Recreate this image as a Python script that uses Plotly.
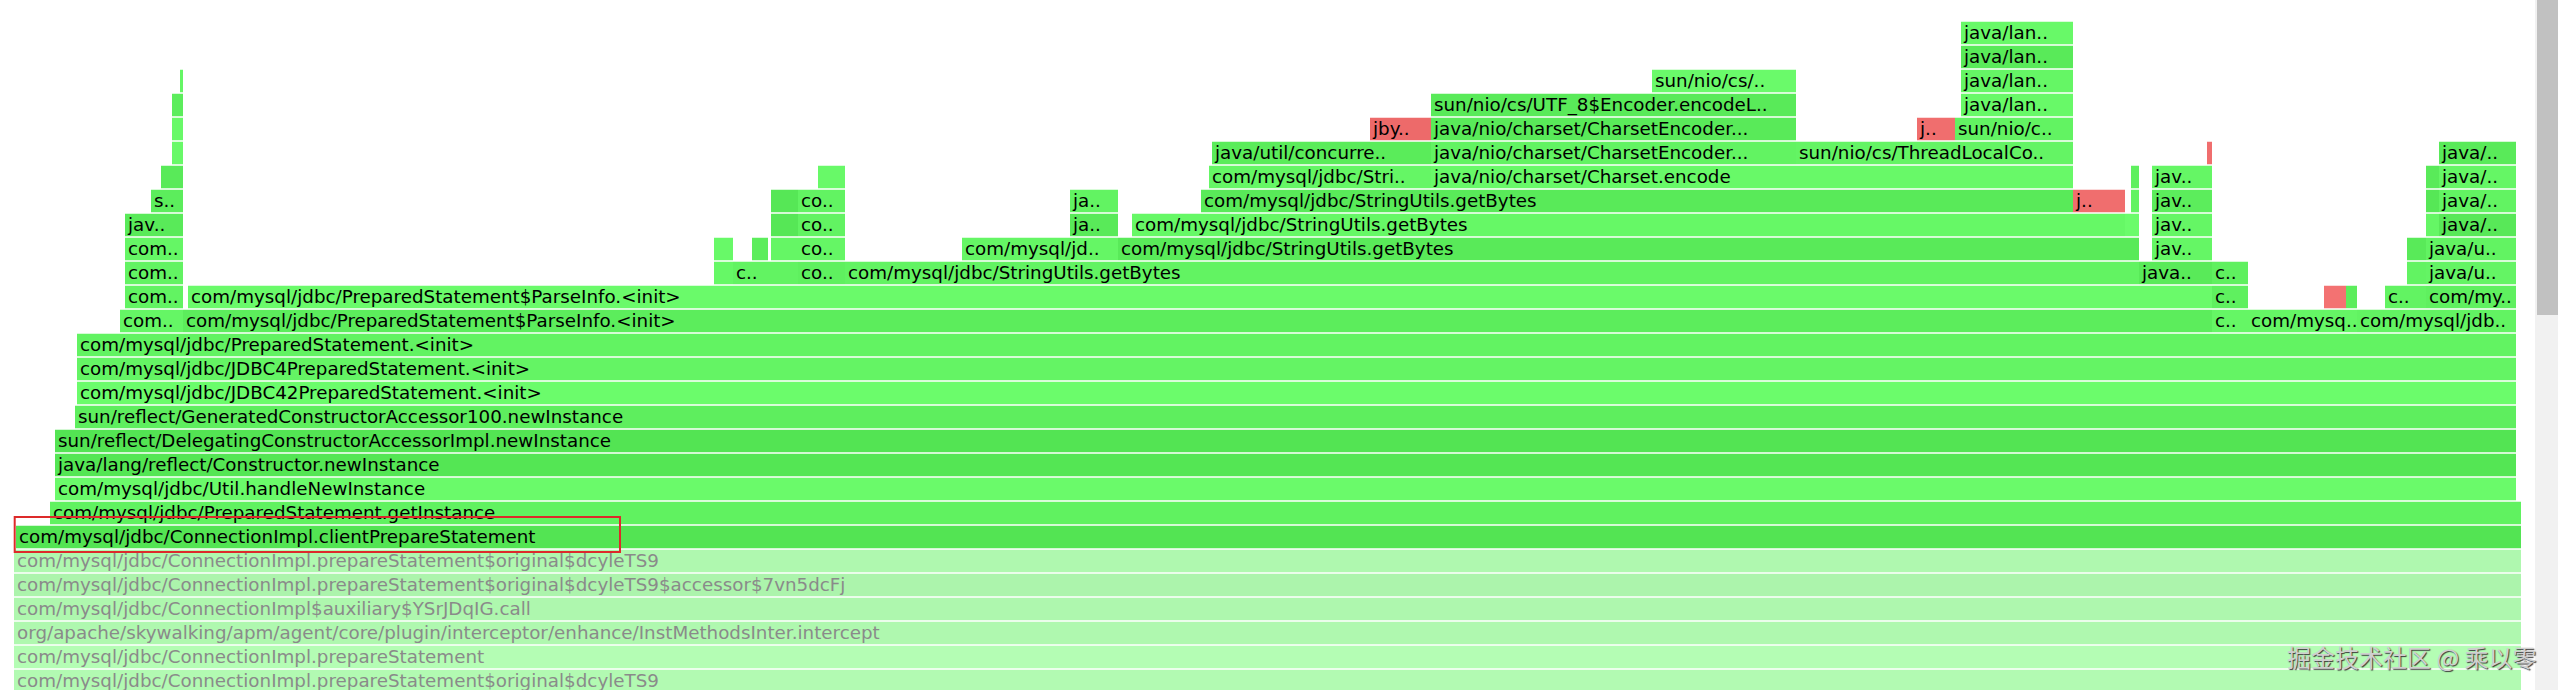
import plotly.graph_objects as go

# ---------------- data: flame graph frames (start sample, width in samples, label, kind) ----------------
# kind: "j" = java frame (green), "n" = native frame (red)
ROOT_LEVEL = 21  # zoomed frame; frames below it are drawn faded

L00 = [(1961, 112, "java/lan..", "j")]
L01 = [(1961, 112, "java/lan..", "j")]
L02 = [(180, 3, "", "j"), (1652, 144, "sun/nio/cs/..", "j"), (1961, 112, "java/lan..", "j")]
L03 = [(172, 11, "", "j"), (1431, 365, "sun/nio/cs/UTF_8$Encoder.encodeL..", "j"), (1961, 112, "java/lan..", "j")]
L04 = [(172, 11, "", "j"), (1370, 61, "jby..", "n"), (1431, 365, "java/nio/charset/CharsetEncoder...", "j"),
       (1917, 38, "j..", "n"), (1955, 118, "sun/nio/c..", "j")]
L05 = [(172, 11, "", "j"), (1212, 219, "java/util/concurre..", "j"), (1431, 365, "java/nio/charset/CharsetEncoder...", "j"),
       (1796, 277, "sun/nio/cs/ThreadLocalCo..", "j"), (2207, 5, "", "n"), (2439, 77, "java/..", "j")]
L06 = [(161, 22, "", "j"), (818, 27, "", "j"), (1209, 222, "com/mysql/jdbc/Stri..", "j"),
       (1431, 642, "java/nio/charset/Charset.encode", "j"), (2131, 8, "", "j"), (2152, 60, "jav..", "j"),
       (2426, 13, "", "j"), (2439, 77, "java/..", "j")]
L07 = [(151, 32, "s..", "j"), (771, 27, "", "j"), (798, 47, "co..", "j"), (1070, 48, "ja..", "j"),
       (1201, 872, "com/mysql/jdbc/StringUtils.getBytes", "j"), (2073, 52, "j..", "n"), (2131, 8, "", "j"),
       (2152, 60, "jav..", "j"), (2426, 13, "", "j"), (2439, 77, "java/..", "j")]
L08 = [(125, 58, "jav..", "j"), (771, 27, "", "j"), (798, 47, "co..", "j"), (1070, 48, "ja..", "j"),
       (1132, 993, "com/mysql/jdbc/StringUtils.getBytes", "j"), (2125, 14, "", "j"), (2152, 60, "jav..", "j"),
       (2426, 13, "", "j"), (2439, 77, "java/..", "j")]
L09 = [(125, 58, "com..", "j"), (714, 19, "", "j"), (752, 16, "", "j"), (771, 27, "", "j"), (798, 47, "co..", "j"),
       (962, 156, "com/mysql/jd..", "j"), (1118, 1021, "com/mysql/jdbc/StringUtils.getBytes", "j"),
       (2152, 60, "jav..", "j"), (2407, 19, "", "j"), (2426, 90, "java/u..", "j")]
L10 = [(125, 58, "com..", "j"), (714, 19, "", "j"), (733, 35, "c..", "j"), (768, 30, "", "j"), (798, 47, "co..", "j"),
       (845, 1294, "com/mysql/jdbc/StringUtils.getBytes", "j"), (2139, 73, "java..", "j"), (2212, 36, "c..", "j"),
       (2407, 19, "", "j"), (2426, 90, "java/u..", "j")]
L11 = [(125, 58, "com..", "j"), (188, 2024, "com/mysql/jdbc/PreparedStatement$ParseInfo.<init>", "j"),
       (2212, 36, "c..", "j"), (2324, 22, "", "n"), (2346, 11, "", "j"), (2385, 41, "c..", "j"),
       (2426, 90, "com/my..", "j")]
L12 = [(120, 63, "com..", "j"), (183, 2029, "com/mysql/jdbc/PreparedStatement$ParseInfo.<init>", "j"),
       (2212, 36, "c..", "j"), (2248, 109, "com/mysq..", "j"), (2357, 159, "com/mysql/jdb..", "j")]
L13 = [(77, 2439, "com/mysql/jdbc/PreparedStatement.<init>", "j")]
L14 = [(77, 2439, "com/mysql/jdbc/JDBC4PreparedStatement.<init>", "j")]
L15 = [(77, 2439, "com/mysql/jdbc/JDBC42PreparedStatement.<init>", "j")]
L16 = [(75, 2441, "sun/reflect/GeneratedConstructorAccessor100.newInstance", "j")]
L17 = [(55, 2461, "sun/reflect/DelegatingConstructorAccessorImpl.newInstance", "j")]
L18 = [(55, 2461, "java/lang/reflect/Constructor.newInstance", "j")]
L19 = [(55, 2461, "com/mysql/jdbc/Util.handleNewInstance", "j")]
L20 = [(50, 2471, "com/mysql/jdbc/PreparedStatement.getInstance", "j")]
L21 = [(16, 2505, "com/mysql/jdbc/ConnectionImpl.clientPrepareStatement", "j")]
L22 = [(14, 2507, "com/mysql/jdbc/ConnectionImpl.prepareStatement$original$dcyleTS9", "j")]
L23 = [(14, 2507, "com/mysql/jdbc/ConnectionImpl.prepareStatement$original$dcyleTS9$accessor$7vn5dcFj", "j")]
L24 = [(14, 2507, "com/mysql/jdbc/ConnectionImpl$auxiliary$YSrJDqIG.call", "j")]
L25 = [(14, 2507, "org/apache/skywalking/apm/agent/core/plugin/interceptor/enhance/InstMethodsInter.intercept", "j")]
L26 = [(14, 2507, "com/mysql/jdbc/ConnectionImpl.prepareStatement", "j")]
L27 = [(14, 2507, "com/mysql/jdbc/ConnectionImpl.prepareStatement$original$dcyleTS9", "j")]

LEVELS = [L00, L01, L02, L03, L04, L05, L06, L07, L08, L09, L10, L11, L12, L13,
          L14, L15, L16, L17, L18, L19, L20, L21, L22, L23, L24, L25, L26, L27]

# ---------------- style: per-frame colour shade (0 = base colour, 1 = brightest) ----------------
SHADES = [
    [0.8], [0.3], [0.7, 0.85, 0.7], [0.4, 0.3, 0.8], [0.8, 0.4, 0.3, 0.5, 0.6],
    [0.8, 0.35, 0.6, 0.65, 0.5, 0.3],
    [0.3, 0.8, 0.7, 0.8, 0.5, 0.7, 0.3, 0.7],
    [0.4, 0.2, 0.6, 0.6, 0.3, 0.5, 0.6, 0.4, 0.2, 0.6],
    [0.3, 0.2, 0.6, 0.3, 0.75, 0.9, 0.7, 0.7, 0.25],
    [0.7, 0.8, 0.4, 0.7, 0.7, 0.7, 0.3, 0.7, 0.3, 0.6],
    [0.6, 0.75, 0.6, 0.6, 0.5, 0.6, 0.3, 0.5, 0.6, 0.65],
    [0.6, 0.85, 0.5, 0.6, 0.4, 0.6, 0.5],
    [0.7, 0.4, 0.7, 0.7, 0.6],
    [0.6], [0.65], [0.9], [0.45], [0.1], [0.15], [0.85], [0.55], [0.1],
    [0.5], [0.3], [0.45], [0.5], [0.85], [0.7],
]

FONT = "DejaVu Sans"
FONT_SIZE = 18.3


def frame_color(kind, v, faded):
    if kind == "n":
        r, g, b = 225 + 30 * v, 90 + 40 * v, 90 + 40 * v
    else:
        r, g, b = 80 + 30 * v, 225 + 30 * v, 80 + 30 * v
    if faded:
        r, g, b = (r + 255) / 2, (g + 255) / 2, (b + 255) / 2
    return "rgb(%d,%d,%d)" % (round(r), round(g), round(b))


def esc(s):
    return s.replace("&", "&amp;").replace("<", "&lt;").replace(">", "&gt;")


bar_y, bar_base, bar_w, bar_col = [], [], [], []
txt_x, txt_y, txt_s, txt_c = [], [], [], []
for lvl, frames in enumerate(LEVELS):
    faded = lvl > ROOT_LEVEL
    for (start, width, label, kind), v in zip(frames, SHADES[lvl]):
        bar_y.append(lvl)
        bar_base.append(start)
        bar_w.append(width)
        bar_col.append(frame_color(kind, v, faded))
        if label:
            txt_x.append(start + 3)
            txt_y.append(lvl + 0.07)
            txt_s.append(esc(label))
            txt_c.append("#8a8a8a" if faded else "#000000")

fig = go.Figure()
fig.add_trace(go.Bar(
    orientation="h", y=bar_y, x=bar_w, base=bar_base, width=0.9375,
    marker=dict(color=bar_col, line=dict(width=0)), hoverinfo="skip", showlegend=False,
))
fig.add_trace(go.Scatter(
    x=txt_x, y=txt_y, mode="text", text=txt_s, textposition="middle right",
    textfont=dict(family=FONT, size=FONT_SIZE, color=txt_c), hoverinfo="skip", showlegend=False,
    cliponaxis=False,
))

# red highlight box drawn around the zoomed root frame
root_start = L21[0][0]
fig.add_shape(type="rect", xref="x", yref="y", x0=root_start - 1.3, x1=620,
              y0=ROOT_LEVEL - 0.83, y1=ROOT_LEVEL + 0.62,
              line=dict(color="#dd2a2a", width=2), fillcolor="rgba(0,0,0,0)", layer="above")

# browser scrollbar (part of the screenshot)
fig.add_shape(type="rect", xref="x", yref="paper", x0=2535, x1=2558, y0=0, y1=1,
              line=dict(width=0), fillcolor="#f1f1f1", layer="below")
fig.add_shape(type="rect", xref="x", yref="paper", x0=2537, x1=2558, y0=1 - 315 / 690, y1=1,
              line=dict(width=0), fillcolor="#c1c1c1", layer="below")

# watermark
fig.add_annotation(text="掘金技术社区 @ 乘以零", xref="x", yref="paper", x=2538, y=1 - 656 / 690,
                   xanchor="right", yanchor="middle", showarrow=False,
                   font=dict(family="Noto Sans CJK SC", size=24, color="#cfcfcf",
                             shadow="1px 1px 1px #3a3a3a"))

fig.update_layout(
    width=2558, height=690, margin=dict(l=0, r=0, t=0, b=0),
    paper_bgcolor="white", plot_bgcolor="white", barmode="overlay",
    xaxis=dict(range=[0, 2558], visible=False, showgrid=False, zeroline=False, fixedrange=True),
    yaxis=dict(range=[27.375, -1.375], visible=False, showgrid=False, zeroline=False, fixedrange=True),
    font=dict(family=FONT),
)

fig.write_html("out.html", config={"displayModeBar": False},
               post_script="document.body.style.margin='0';document.body.style.overflow='hidden';")
